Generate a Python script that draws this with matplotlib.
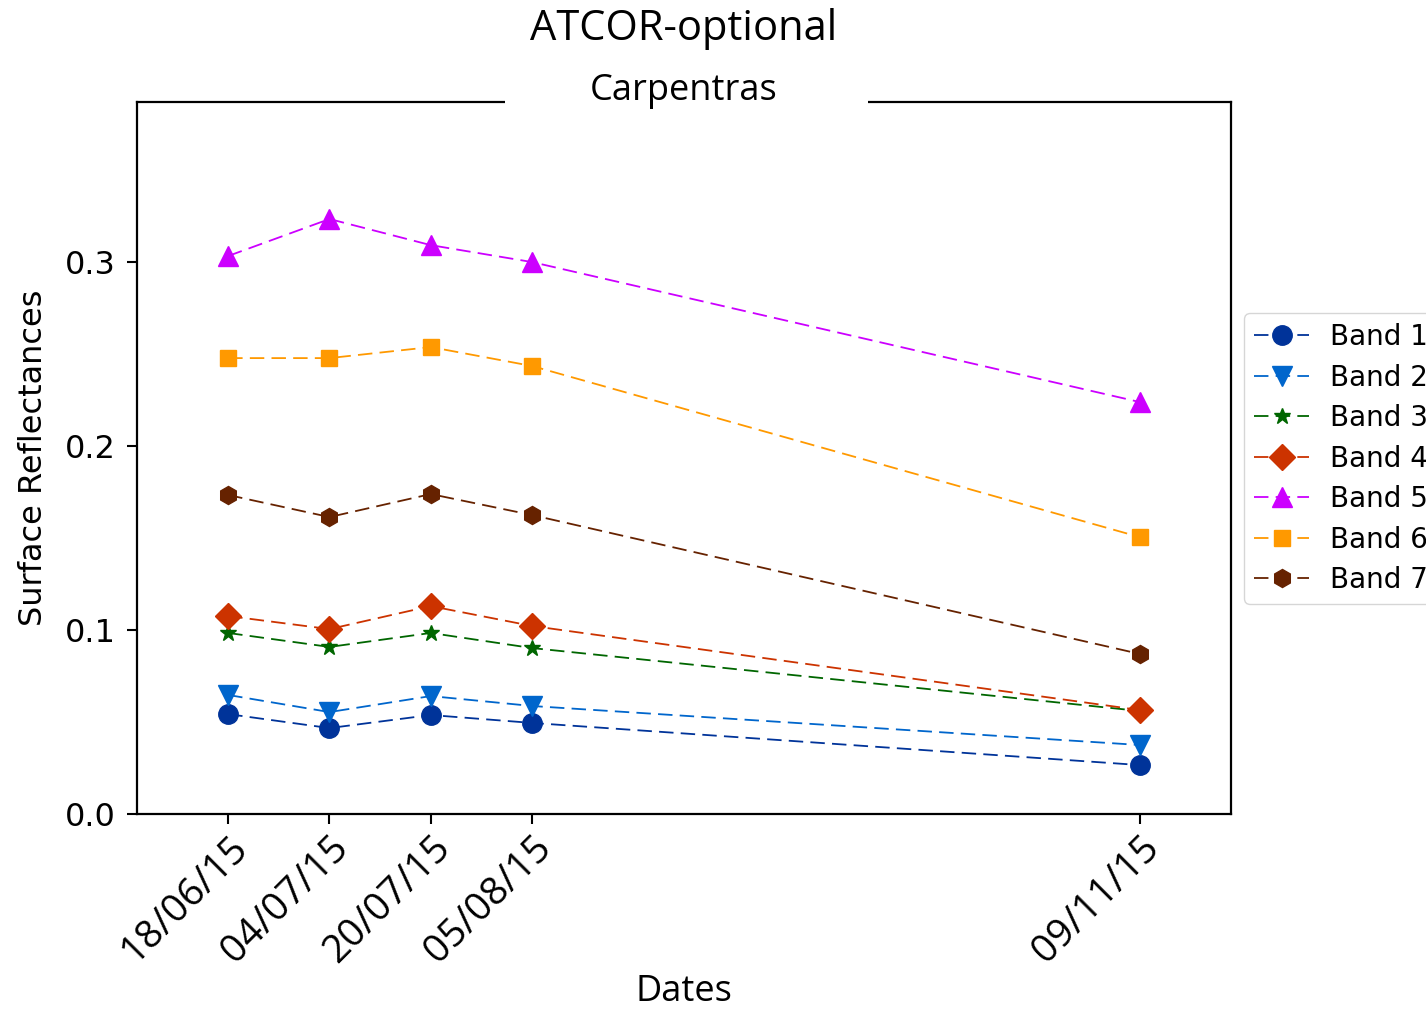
import matplotlib
matplotlib.use("Agg")
import matplotlib.pyplot as plt
import matplotlib.dates as mdates
from matplotlib.patches import Rectangle
import pandas as pd

# -----------------------------
# DATA
# -----------------------------
dates = ["2015-06-18", "2015-07-04", "2015-07-20", "2015-08-05", "2015-11-09"]

band1 = [0.0543, 0.0467, 0.0538, 0.0495, 0.0266]
band2 = [0.0647, 0.0554, 0.0641, 0.0587, 0.0375]
band3 = [0.0984, 0.0908, 0.0984, 0.0902, 0.0560]
band4 = [0.1076, 0.1005, 0.1130, 0.1022, 0.0565]
band5 = [0.3033, 0.3234, 0.3092, 0.3000, 0.2239]
band6 = [0.2478, 0.2478, 0.2538, 0.2435, 0.1505]
band7 = [0.1734, 0.1614, 0.1739, 0.1625, 0.0870]

labels = ["Band 1", "Band 2", "Band 3", "Band 4", "Band 5", "Band 6", "Band 7"]
series = [band1, band2, band3, band4, band5, band6, band7]
colors = ["#003399", "#0066CC", "#006600", "#CC3300", "#CC00FF", "#FF9900", "#662200"]
markers = ["o", "v", "*", "D", "^", "s", "h"]
msizes = [14, 14, 12, 13, 14, 12, 13]

x = pd.to_datetime(dates)

# -----------------------------
# PLOT
# -----------------------------
calibri_like = "Open Sans"
plt.rcParams["font.family"] = "DejaVu Sans"

fig = plt.figure(figsize=(14.26, 10.09), dpi=100)
ax = fig.add_axes([137 / 1426, 1 - 814 / 1009, (1231 - 137) / 1426, (814 - 102) / 1009])

for vals, lab, col, mk, ms in zip(series, labels, colors, markers, msizes):
    ax.plot(x, vals, linestyle="--", dashes=(8, 4), linewidth=1.3,
            color=col, marker=mk, markersize=ms, label=lab)

ax.set_ylim(0, 0.387)
ax.margins(x=0.1)
ax.set_yticks([0.0, 0.1, 0.2, 0.3])
ax.yaxis.set_major_formatter(plt.FormatStrFormatter("%.1f"))

ax.set_xticks(x)
ax.xaxis.set_major_formatter(mdates.DateFormatter("%d/%m/%y"))
plt.setp(ax.get_xticklabels(), rotation=45, ha="right", rotation_mode="anchor",
         fontsize=28, family=calibri_like)
plt.setp(ax.get_yticklabels(), fontsize=23)

ax.tick_params(length=7, width=1.5)
ax.tick_params(axis="y", pad=8)
for sp in ax.spines.values():
    sp.set_linewidth(1.6)

ax.set_ylabel("Surface Reflectances", fontsize=23)
ax.yaxis.set_label_coords(-0.08, 0.5)
ax.set_xlabel("Dates", fontsize=26, family=calibri_like)
ax.xaxis.set_label_coords(0.5, -0.225)

# titles
fig.text(ax.get_position().x0 + ax.get_position().width / 2, 1 - 40 / 1009,
         "ATCOR-optional", ha="center", va="baseline", fontsize=30, family=calibri_like)
ax.add_patch(Rectangle((0.3364, 0.99), 0.3318, 0.03, transform=ax.transAxes,
                       facecolor="white", edgecolor="none", clip_on=False, zorder=5))
ax.text(0.5, 1.003, "Carpentras", transform=ax.transAxes, ha="center", va="baseline",
        fontsize=26, family=calibri_like, zorder=6)

ax.legend(loc="center left", bbox_to_anchor=(1.0119, 0.499), borderaxespad=0,
          fontsize=20, handlelength=2.0, handletextpad=0.75, borderpad=0.35,
          labelspacing=0.45, framealpha=0.8)

fig.savefig("out.png", dpi=100)
